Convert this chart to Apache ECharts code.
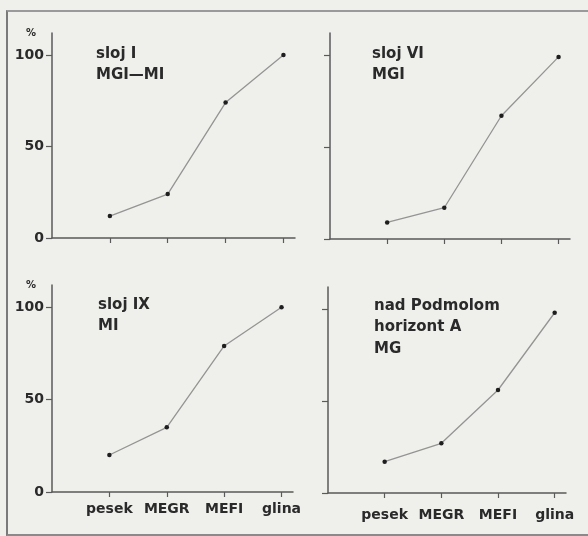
<!DOCTYPE html>
<html>
<head>
<meta charset="utf-8">
<script src="https://cdn.jsdelivr.net/npm/echarts@6/dist/echarts.min.js"></script>
<style>
  html, body { margin: 0; padding: 0; background: #efefeb; overflow: hidden; width: 588px; height: 536px; }
  #frame { position: absolute; left: 6px; top: 10px; width: 620px; height: 522px;
           border-left: 2px solid #7a7a7a; border-top: 2px solid #9a9a9a; border-bottom: 2px solid #8a8a8a; border-right: none; }
  #chart { position: absolute; left: 0; top: 0; width: 588px; height: 536px; }
</style>
</head>
<body>
<div id="frame"></div>
<div id="chart"></div>
<script>
// ---- data ----
const categories = ['pesek', 'MEGR', 'MEFI', 'glina'];
const yTicks = [0, 50, 100];
const titles = [
  'sloj I\nMGI\u2014MI',
  'sloj VI\nMGI',
  'sloj IX\nMI',
  'nad Podmolom\nhorizont A\nMG'
];
const sloj1 = [12, 24, 74, 100];
const sloj6 = [9, 17, 67, 99];
const sloj9 = [20, 35, 79, 100];
const podmol = [17, 27, 56, 98];
const seriesValues = [sloj1, sloj6, sloj9, podmol];

// ---- layout ----
const grids = [
  { left: 52, top: 33, width: 243, height: 205 },
  { left: 330, top: 33, width: 240, height: 206 },
  { left: 52, top: 285, width: 241, height: 207 },
  { left: 328, top: 287, width: 238, height: 206 }
];
const titlePos = [
  { left: 96, top: 43 },
  { left: 372, top: 43 },
  { left: 98, top: 294 },
  { left: 374, top: 295 }
];
const showY = [true, false, true, false];
const showX = [false, false, true, true];
const xLabelMargin = [10, 10, 10, 15];

const font = 'DejaVu Sans';
const axisColor = '#5a5a5a';
const textColor = '#2a2a2a';

const chart = echarts.init(document.getElementById('chart'), null, { renderer: 'canvas' });

const option = {
  backgroundColor: 'transparent',
  animation: false,
  title: titles.map((t, i) => ({
    text: t,
    left: titlePos[i].left,
    top: titlePos[i].top,
    padding: 0,
    textStyle: { fontFamily: font, fontSize: 15, fontWeight: 'bold', color: textColor, lineHeight: 21.5 }
  })),
  grid: grids.map(g => Object.assign({ containLabel: false }, g)),
  xAxis: grids.map((g, i) => ({
    type: 'value',
    gridIndex: i,
    min: -1,
    max: 3.2,
    splitLine: { show: false },
    axisLine: { show: true, onZero: false, lineStyle: { color: axisColor, width: 1.5 } },
    axisTick: { show: true, customValues: [0, 1, 2, 3], length: 5, inside: false, lineStyle: { color: axisColor, width: 1.2 } },
    axisLabel: {
      show: showX[i],
      customValues: [0, 1, 2, 3],
      formatter: v => categories[Math.round(v)],
      margin: xLabelMargin[i],
      fontFamily: font, fontSize: 14, fontWeight: 'bold', color: textColor
    }
  })),
  yAxis: grids.map((g, i) => ({
    type: 'value',
    gridIndex: i,
    min: 0,
    max: 112,
    interval: 50,
    name: showY[i] ? '%' : '',
    nameLocation: 'end',
    nameGap: 0,
    nameTextStyle: { fontFamily: font, fontSize: 10, fontWeight: 'bold', color: textColor,
                     align: 'right', verticalAlign: 'middle', padding: [0, 16, 0, 0] },
    splitLine: { show: false },
    axisLine: { show: true, onZero: false, lineStyle: { color: axisColor, width: 1.5 } },
    axisTick: { show: true, customValues: yTicks, length: 6, lineStyle: { color: axisColor, width: 1.2 } },
    axisLabel: {
      show: showY[i],
      customValues: yTicks,
      margin: 8,
      fontFamily: font, fontSize: 14, fontWeight: 'bold', color: textColor
    }
  })),
  series: seriesValues.map((vals, i) => ({
    type: 'line',
    xAxisIndex: i,
    yAxisIndex: i,
    data: vals.map((v, k) => [k, v]),
    symbol: 'circle',
    symbolSize: 4.5,
    itemStyle: { color: '#1e1e1e' },
    lineStyle: { color: '#949494', width: 1.3 },
    silent: true
  }))
};
chart.setOption(option);
</script>
</body>
</html>
